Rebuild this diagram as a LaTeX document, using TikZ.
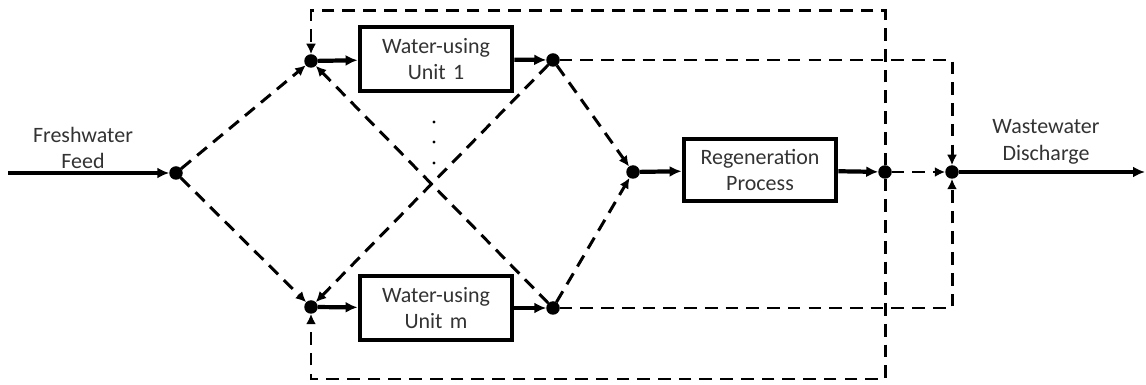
\documentclass[tikz,border=0pt]{standalone}
\usepackage{fontspec}
\setmainfont{Carlito}
\usetikzlibrary{arrows.meta}

\begin{document}
\begin{tikzpicture}[x=0.02cm, y=0.02cm]
    \tikzstyle{block} = [rectangle, draw, line width=2.5pt, inner sep=2pt, minimum width=3.05cm, minimum height=1.28cm, text width=2.6cm, text centered, font=\fontsize{12.5}{15.3}\selectfont, text=black!80]
    \tikzstyle{junction} = [circle, fill=black, inner sep=0pt, outer sep=0pt, minimum size=0.27cm]
    \tikzstyle{line} = [draw, -{Latex[length=2.4mm, width=2.2mm]}, line width=2.4pt]
    \tikzstyle{dline} = [draw, -{Latex[length=2.1mm, width=2mm]}, line width=1.7pt, dash pattern=on 7.2pt off 4.6pt]
    \tikzstyle{streamtext} = [align=center, font=\fontsize{12.5}{15.3}\selectfont, text=black!80]

    \useasboundingbox (0,0) rectangle (1146,385);

    \node [junction] (feed) at (176,212) {};
    \node [junction] (in1) at (311,324) {};
    \node [junction] (inm) at (311,78) {};
    \node [block] (unit1) at (436,326) {Water-using\\ Unit 1};
    \node [block] (unitm) at (436,77) {Water-using\\ Unit m};
    \node [junction] (out1) at (553,325) {};
    \node [junction] (outm) at (553,77) {};
    \node [junction] (rmix) at (633,213) {};
    \node [block, minimum height=1.25cm] (regen) at (760,215) {Regeneration\\ Process};
    \node [junction] (rsplit) at (885,213) {};
    \node [junction] (dis) at (952,213) {};
    \coordinate (fwin) at (8,212);
    \coordinate (wwout) at (1145,213);

    \node [streamtext] (fwtext) at (83,237) {Freshwater\\ Feed};
    \node [streamtext] (wwtext) at (1046,243) {Wastewater\\ Discharge};

    % solid streams
    \path [line] (fwin) -- (feed);
    \path [line] (in1) -- (unit1);
    \path [line] (inm) -- (unitm);
    \path [line] (unit1) -- (out1);
    \path [line] (unitm) -- (outm);
    \path [line] (rmix) -- (regen);
    \path [line] (regen) -- (rsplit);
    \path [line] (dis) -- (wwout);

    % freshwater to the units
    \path [dline] (feed) -- (in1);
    \path [dline] (feed) -- (inm);

    % reuse between units
    \path [dline] (out1) -- (inm);
    \path [dline] (outm) -- (in1);

    % to regeneration
    \path [dline] (out1) -- (rmix);
    \path [dline] (outm) -- (rmix);

    % recycle of regenerated water
    \path [dline] (rsplit) -- ++(0,161) -| (in1);
    \path [dline] (rsplit) -- ++(0,-207) -| (inm);

    % discharge
    \path [dline] (rsplit) -- (dis);
    \path [dline] (out1) -| (dis);
    \path [dline] (outm) -| (dis);

    \foreach \y in {222,243,263}
        \fill (434,\y) circle [radius=1.6];
\end{tikzpicture}
\end{document}
